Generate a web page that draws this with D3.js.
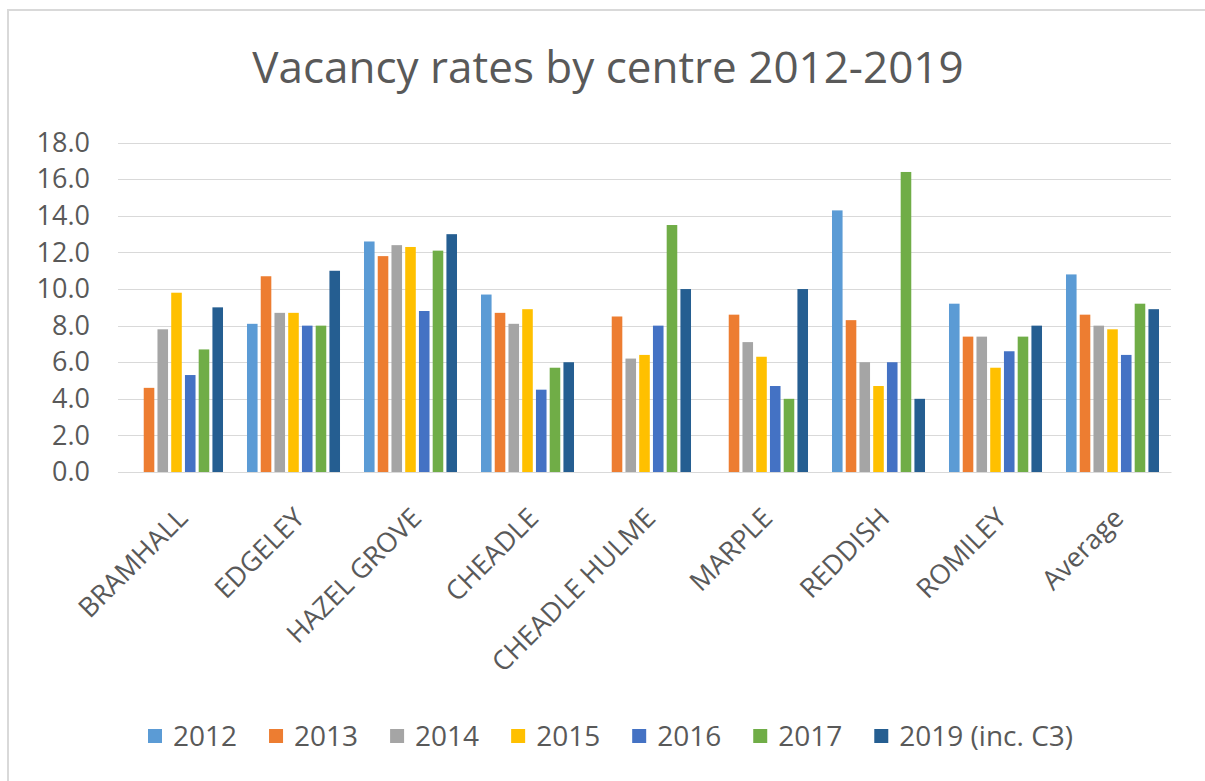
<!DOCTYPE html>
<html lang="en">
<head>
  <meta charset="UTF-8">
  <title>Vacancy rates by centre 2012-2019</title>
  <script src="https://d3js.org/d3.v7.min.js"></script>
  <style>
    body { margin: 0; background: #fff; }
    text { font-family: "Open Sans", "Noto Sans", sans-serif; fill: #595959; }
    .grid line { stroke: #d9d9d9; stroke-width: 1px; }
  </style>
</head>
<body>
  <svg id="chart" width="1205" height="781"></svg>

  <script>
    // Centres along the x axis
    const centres = ["BRAMHALL", "EDGELEY", "HAZEL GROVE", "CHEADLE", "CHEADLE HULME",
                     "MARPLE", "REDDISH", "ROMILEY", "Average"];

    // Series names (legend)
    const years = ["2012", "2013", "2014", "2015", "2016", "2017", "2019 (inc. C3)"];

    // Vacancy rate (%) per year, one value per centre (null = no data)
    const v2012 = [null, 8.1, 12.6, 9.7, null, null, 14.3, 9.2, 10.8];
    const v2013 = [4.6, 10.7, 11.8, 8.7, 8.5, 8.6, 8.3, 7.4, 8.6];
    const v2014 = [7.8, 8.7, 12.4, 8.1, 6.2, 7.1, 6.0, 7.4, 8.0];
    const v2015 = [9.8, 8.7, 12.3, 8.9, 6.4, 6.3, 4.7, 5.7, 7.8];
    const v2016 = [5.3, 8.0, 8.8, 4.5, 8.0, 4.7, 6.0, 6.6, 6.4];
    const v2017 = [6.7, 8.0, 12.1, 5.7, 13.5, 4.0, 16.4, 7.4, 9.2];
    const v2019 = [9.0, 11.0, 13.0, 6.0, 10.0, 10.0, 4.0, 8.0, 8.9];

    // y axis ticks
    const yTicks = [0, 2, 4, 6, 8, 10, 12, 14, 16, 18];

    const seriesValues = [v2012, v2013, v2014, v2015, v2016, v2017, v2019];
    const colors = ["#5b9bd5", "#ed7d31", "#a5a5a5", "#ffc000", "#4472c4", "#70ad47", "#255e91"];

    const width = 1205;
    const height = 781;
    const margin = { top: 142.7, right: 34, bottom: 309, left: 118 };

    const svg = d3.select("#chart");

    // chart area border
    svg.append("rect")
      .attr("x", 8).attr("y", 10)
      .attr("width", 1220).attr("height", 800)
      .attr("fill", "none")
      .attr("stroke", "#d9d9d9")
      .attr("stroke-width", 2);

    // title
    svg.append("text")
      .attr("x", 608).attr("y", 83)
      .attr("text-anchor", "middle")
      .style("font-size", "44px")
      .text("Vacancy rates by centre 2012-2019");

    const x0 = d3.scaleBand()
      .domain(centres)
      .range([margin.left, width - margin.right])
      .paddingInner(0.205)
      .paddingOuter(0.1025);

    const x1 = d3.scaleBand()
      .domain(years)
      .range([0, x0.bandwidth()])
      .paddingInner(0.23);

    const y = d3.scaleLinear()
      .domain([0, 18])
      .range([height - margin.bottom, margin.top]);

    // gridlines
    svg.append("g")
      .attr("class", "grid")
      .selectAll("line")
      .data(yTicks)
      .join("line")
      .attr("x1", margin.left)
      .attr("x2", width - margin.right)
      .attr("y1", d => Math.round(y(d)) + 0.5)
      .attr("y2", d => Math.round(y(d)) + 0.5);

    // y axis labels
    const yAxis = svg.append("g")
      .attr("transform", `translate(${margin.left}, 0)`)
      .call(d3.axisLeft(y).tickValues(yTicks).tickFormat(d3.format(".1f")).tickSize(0).tickPadding(28));
    yAxis.select(".domain").remove();
    yAxis.selectAll("text")
      .style("font-size", "27px")
      .style("font-family", null)
      .attr("fill", null);

    // bars
    const groups = svg.append("g")
      .selectAll("g")
      .data(years)
      .join("g")
      .attr("fill", (d, i) => colors[i]);

    groups.selectAll("rect")
      .data((yr, i) => seriesValues[i].map((v, j) => ({ centre: centres[j], year: yr, value: v }))
        .filter(d => d.value !== null))
      .join("rect")
      .attr("x", d => x0(d.centre) + x1(d.year))
      .attr("y", d => y(d.value))
      .attr("width", x1.bandwidth())
      .attr("height", d => y(0) - y(d.value));

    // x axis labels, rotated
    const xAxis = svg.append("g")
      .attr("transform", `translate(0, ${height - margin.bottom})`)
      .call(d3.axisBottom(x0).tickSize(0).tickPadding(0));
    xAxis.select(".domain")
      .attr("stroke", "#d9d9d9");
    xAxis.selectAll("text")
      .style("font-size", "27px")
      .style("font-family", null)
      .attr("fill", null)
      .attr("text-anchor", "end")
      .attr("dy", "0.35em")
      .attr("y", 0)
      .attr("transform", "translate(6, 41) rotate(-45)");

    // legend
    const legend = svg.append("g");
    let lx = 148;
    years.forEach((yr, i) => {
      legend.append("rect")
        .attr("x", lx).attr("y", 729)
        .attr("width", 14).attr("height", 14)
        .attr("fill", colors[i]);
      const t = legend.append("text")
        .attr("x", lx + 25).attr("y", 736)
        .attr("dy", "0.35em")
        .style("font-size", "28px")
        .text(yr);
      lx += 25 + t.node().getComputedTextLength() + 32;
    });
  </script>
</body>
</html>
